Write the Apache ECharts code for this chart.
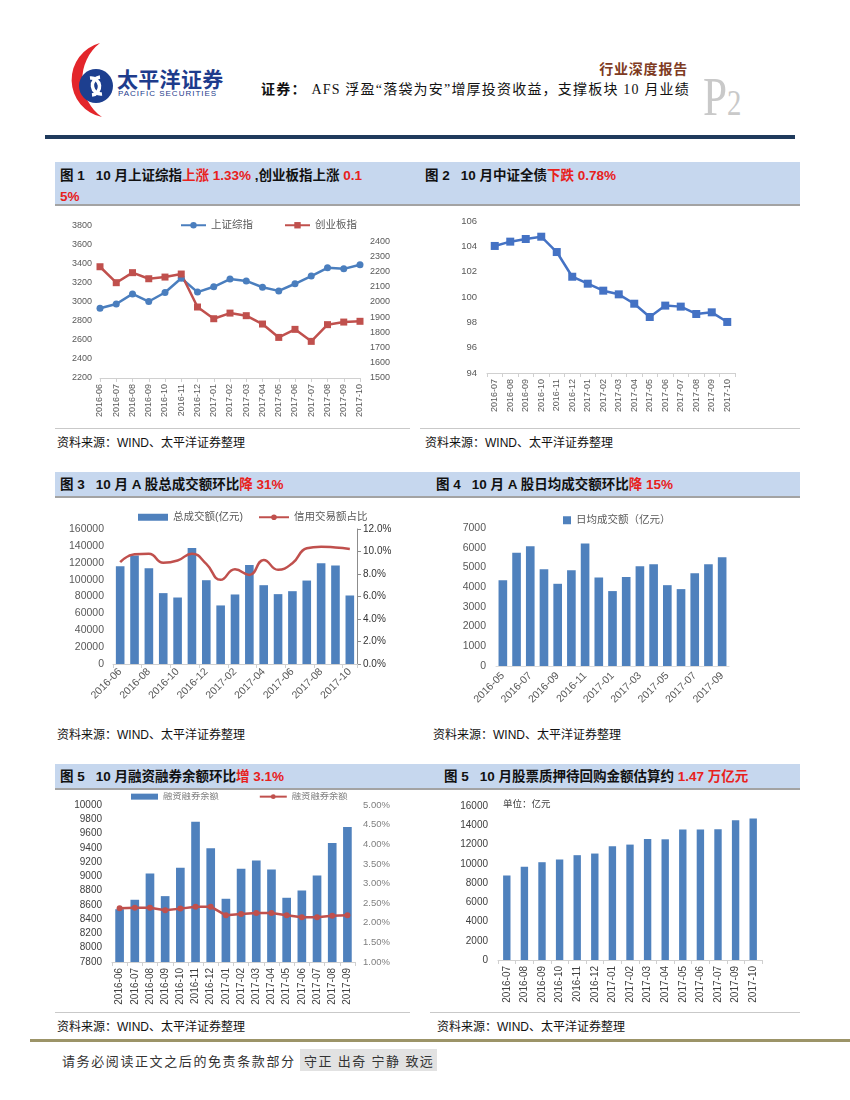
<!DOCTYPE html>
<html><head><meta charset="utf-8">
<script src="https://cdn.jsdelivr.net/npm/echarts@6/dist/echarts.min.js"></script>
<style>
body{margin:0;width:850px;height:1100px;background:#fff;position:relative;font-family:"Liberation Sans","Noto Sans CJK SC",sans-serif;overflow:hidden}
.band{position:absolute;left:55px;width:745px;background:#c6d7ee;border-bottom:2px solid #a3a3a3}
.t{position:absolute;font-weight:bold;font-size:13.5px;color:#111;white-space:nowrap;line-height:21px}
.r{color:#e8211c}
.g{margin-left:11px}
.src{position:absolute;font-size:12px;color:#111;white-space:nowrap}
.chart{position:absolute}
.hl{position:absolute;height:1px;background:#c9c9c9}
</style></head><body>

<svg style="position:absolute;left:0;top:0" width="240" height="130">
  <path d="M100,43 A38,38 0 0,0 102,117 A46,46 0 0,1 100,43 Z" fill="#e3262b"/>
  <circle cx="96" cy="86" r="17" fill="#1d3f8f"/>
  <path d="M90,78 A8,8 0 1,1 92,95" stroke="#fff" stroke-width="3.5" fill="none"/>
  <path d="M102,94 A8,8 0 1,1 100,77" stroke="#fff" stroke-width="3.5" fill="none"/>
</svg>
<div style="position:absolute;left:117px;top:63px;font-size:21px;font-weight:bold;color:#1e3c8c;letter-spacing:0.3px;font-family:'Noto Sans CJK SC'">太平洋证券</div>
<div style="position:absolute;left:118px;top:89px;font-size:8px;color:#1e3c8c;letter-spacing:1px">PACIFIC SECURITIES</div>
<div style="position:absolute;right:162px;top:58px;font-size:14px;font-weight:bold;color:#7e3a22;letter-spacing:0.8px;font-family:'Noto Sans CJK SC'">行业深度报告</div>
<div style="position:absolute;right:160px;top:78px;font-size:14px;color:#111;white-space:nowrap;letter-spacing:1.2px;font-family:'Liberation Serif','Noto Sans CJK SC'"><b>证券：</b> AFS 浮盈“落袋为安”增厚投资收益，支撑板块 10 月业绩</div>
<div style="position:absolute;left:703px;top:66px;color:#c9c9c9;font-family:'Liberation Serif';white-space:nowrap;transform:scaleX(0.8);transform-origin:left"><span style="font-size:54px">P</span><span style="font-size:36px">2</span></div>
<div style="position:absolute;left:45px;top:135px;width:750px;height:4px;background:#1f3a5c"></div>

<div class="band" style="top:162px;height:42px"></div>
<div class="t" style="left:60px;top:165px">图 1<span class="g">10 月上证综指</span><span class="r">上涨 1.33%</span> ,创业板指上涨 <span class="r">0.1</span><br><span class="r">5%</span></div>
<div class="t" style="left:425px;top:165px">图 2<span class="g">10 月中证全债</span><span class="r">下跌 0.78%</span></div>

<div class="band" style="top:472px;height:24px"></div>
<div class="t" style="left:60px;top:474px">图 3<span class="g">10 月 A 股总成交额环比</span><span class="r">降 31%</span></div>
<div class="t" style="left:436px;top:474px">图 4<span class="g">10 月 A 股日均成交额环比</span><span class="r">降 15%</span></div>

<div class="band" style="top:764px;height:24px"></div>
<div class="t" style="left:60px;top:766px">图 5<span class="g">10 月融资融券余额环比</span><span class="r">增 3.1%</span></div>
<div class="t" style="left:444px;top:766px">图 5<span class="g">10 月股票质押待回购金额估算约</span><span class="r"> 1.47 万亿元</span></div>

<div id="c1" class="chart" style="left:55px;top:207px;width:355px;height:220px"></div>
<div id="c2" class="chart" style="left:415px;top:207px;width:385px;height:220px"></div>
<div id="c3" class="chart" style="left:55px;top:505px;width:355px;height:210px"></div>
<div id="c4" class="chart" style="left:430px;top:505px;width:370px;height:210px"></div>
<div id="c5" class="chart" style="left:55px;top:792px;width:355px;height:220px"></div>
<div id="c6" class="chart" style="left:430px;top:792px;width:370px;height:220px"></div>

<div class="hl" style="left:55px;top:428px;width:355px"></div>
<div class="hl" style="left:420px;top:428px;width:380px"></div>
<div class="hl" style="left:55px;top:1012px;width:355px"></div>
<div class="hl" style="left:430px;top:1012px;width:370px"></div>

<div class="src" style="left:57px;top:433px">资料来源：WIND、太平洋证券整理</div>
<div class="src" style="left:425px;top:433px">资料来源：WIND、太平洋证券整理</div>
<div class="src" style="left:57px;top:725px">资料来源：WIND、太平洋证券整理</div>
<div class="src" style="left:433px;top:725px">资料来源：WIND、太平洋证券整理</div>
<div class="src" style="left:57px;top:1017px">资料来源：WIND、太平洋证券整理</div>
<div class="src" style="left:437px;top:1017px">资料来源：WIND、太平洋证券整理</div>

<div style="position:absolute;left:30px;top:1039px;width:820px;height:3px;background:#9c9468"></div>
<div style="position:absolute;left:62px;top:1051px;font-size:13px;color:#333;letter-spacing:1.6px;white-space:nowrap">请务必阅读正文之后的免责条款部分</div>
<div style="position:absolute;left:300px;top:1049px;width:137px;height:22px;background:#e2e2e2"></div>
<div style="position:absolute;left:304px;top:1051px;font-size:13px;color:#333;letter-spacing:1.4px;white-space:nowrap">守正 出奇 宁静 致远</div>

<script>
// ---- Chart 1 data ----
const c1Cats = ['2016-06','2016-07','2016-08','2016-09','2016-10','2016-11','2016-12','2017-01','2017-02','2017-03','2017-04','2017-05','2017-06','2017-07','2017-08','2017-09','2017-10'];
const shIndex = [2934,2979,3085,3005,3100,3250,3104,3160,3242,3222,3155,3117,3192,3273,3360,3349,3393];
const cybIndex = [2232,2127,2193,2153,2164,2184,1967,1890,1927,1910,1855,1767,1820,1741,1851,1868,1873];
// ---- Chart 2 data ----
const c2Cats = ['2016-07','2016-08','2016-09','2016-10','2016-11','2016-12','2017-01','2017-02','2017-03','2017-04','2017-05','2017-06','2017-07','2017-08','2017-09','2017-10'];
const bondIndex = [104.03,104.37,104.58,104.76,103.55,101.6,101.05,100.5,100.21,99.47,98.42,99.32,99.24,98.66,98.79,98.03];
// ---- Chart 3 data ----
const c3Cats = ['2016-06','2016-07','2016-08','2016-09','2016-10','2016-11','2016-12','2017-01','2017-02','2017-03','2017-04','2017-05','2017-06','2017-07','2017-08','2017-09','2017-10'];
const totalTurnover = [115800,128500,113500,84000,78800,137500,99300,69400,82400,117400,93400,82800,86300,98900,119400,116600,81200];
const creditRatio = [9.05,9.75,9.81,9.0,9.2,9.81,8.9,7.48,8.42,7.92,9.25,8.37,8.96,10.29,10.43,10.35,10.23];
// ---- Chart 4 data ----
const c4Cats = ['2016-05','2016-06','2016-07','2016-08','2016-09','2016-10','2016-11','2016-12','2017-01','2017-02','2017-03','2017-04','2017-05','2017-06','2017-07','2017-08','2017-09'];
const dailyTurnover = [4350,5750,6070,4910,4170,4860,6210,4490,3800,4520,5060,5160,4100,3900,4710,5160,5520];
// ---- Chart 5 data ----
const c5Cats = ['2016-06','2016-07','2016-08','2016-09','2016-10','2016-11','2016-12','2017-01','2017-02','2017-03','2017-04','2017-05','2017-06','2017-07','2017-08','2017-09'];
const marginBalance = [8540,8672,9040,8723,9119,9767,9394,8686,9105,9222,9096,8700,8802,9012,9469,9692];
const marginRatio = [2.37,2.38,2.38,2.32,2.36,2.41,2.41,2.19,2.22,2.25,2.25,2.19,2.14,2.14,2.18,2.19];
// ---- Chart 6 data ----
const c6Cats = ['2016-07','2016-08','2016-09','2016-10','2016-11','2016-12','2017-01','2017-02','2017-03','2017-04','2017-05','2017-06','2017-07','2017-09','2017-10'];
const pledgeAmount = [8780,9680,10160,10440,10890,11060,11820,11990,12580,12540,13550,13550,13580,14510,14700];

const FONT = "'Liberation Sans','Noto Sans CJK SC',sans-serif";
const LBL = '#595959';
const BLUE = '#4f81bd';
const RED = '#c0504d';
const plain = v => String(v);
function catAxis(cats, opt){
  return Object.assign({
    type:'category', data:cats,
    axisLine:{show:true, lineStyle:{color:'#d0d0d0'}},
    axisTick:{show:true, length:4, lineStyle:{color:'#d0d0d0'}},
    axisLabel:{color:LBL, fontSize:9, fontFamily:FONT, rotate:90, interval:0, margin:6}
  }, opt||{});
}
function valAxis(min,max,interval,opt){
  return Object.assign({
    type:'value', min:min, max:max, interval:interval,
    splitLine:{show:false}, axisLine:{show:false}, axisTick:{show:false},
    axisLabel:{color:LBL, fontSize:9, fontFamily:FONT, margin:8, formatter:plain}
  }, opt||{});
}

// Chart 1
echarts.init(document.getElementById('c1')).setOption({
  animation:false,
  legend:{left:125, top:13, padding:0, itemWidth:25, itemHeight:8, itemGap:31,
    textStyle:{color:LBL, fontSize:10.5, fontFamily:FONT}, data:['上证综指','创业板指']},
  grid:{left:45, top:19, width:260, height:152},
  xAxis:catAxis(c1Cats,{boundaryGap:false}),
  yAxis:[
    valAxis(2200,3800,200),
    valAxis(1500,2500,100,{position:'right', axisLabel:{color:LBL,fontSize:9,fontFamily:FONT,margin:10,
      formatter:v=> v===2500?'':String(v)}})
  ],
  series:[
    {name:'上证综指', type:'line', data:shIndex, symbol:'circle', symbolSize:7,
      lineStyle:{width:2.5,color:'#4a7ebe'}, itemStyle:{color:'#4a7ebe'}},
    {name:'创业板指', type:'line', yAxisIndex:1, data:cybIndex, symbol:'rect', symbolSize:7,
      lineStyle:{width:2.5,color:RED}, itemStyle:{color:RED}}
  ]
});

// Chart 2
echarts.init(document.getElementById('c2')).setOption({
  animation:false,
  grid:{left:72, top:14, width:248, height:152},
  xAxis:catAxis(c2Cats,{boundaryGap:true}),
  yAxis:valAxis(94,106,2,{axisLabel:{color:LBL,fontSize:9.5,fontFamily:FONT,margin:10,formatter:plain}}),
  series:[{type:'line', data:bondIndex, symbol:'rect', symbolSize:8,
    lineStyle:{width:2.5,color:'#4472c4'}, itemStyle:{color:'#4472c4'}}]
});

// Chart 3
echarts.init(document.getElementById('c3')).setOption({
  animation:false,
  legend:{left:83, top:7, padding:0, itemWidth:30, itemHeight:7, itemGap:15, width:300,
    textStyle:{color:LBL, fontSize:10.5, fontFamily:FONT},
    data:[{name:'总成交额(亿元)', icon:'rect'},{name:'信用交易额占比'}]},
  grid:{left:58, top:24, width:244, height:135},
  xAxis:catAxis(c3Cats,{boundaryGap:true, axisLabel:{color:LBL,fontSize:10.5,fontFamily:FONT,rotate:45,interval:1,margin:6}}),
  yAxis:[
    valAxis(0,160000,20000,{axisLabel:{color:LBL,fontSize:10.5,fontFamily:FONT,margin:9,formatter:plain}}),
    valAxis(0,12,2,{position:'right', axisLine:{show:true,lineStyle:{color:'#8c8c8c'}},
      axisTick:{show:true,length:4,lineStyle:{color:'#8c8c8c'}},
      axisLabel:{color:'#333',fontSize:10,fontFamily:FONT,margin:6,formatter:v=>v.toFixed(1)+'%'}})
  ],
  series:[
    {name:'总成交额(亿元)', type:'bar', data:totalTurnover, barWidth:'60%', itemStyle:{color:BLUE}},
    {name:'信用交易额占比', type:'line', yAxisIndex:1, data:creditRatio, smooth:0.5, symbol:'none',
      lineStyle:{width:2.5,color:RED}, itemStyle:{color:RED}}
  ]
});

// Chart 4
echarts.init(document.getElementById('c4')).setOption({
  animation:false,
  legend:{left:133, top:10, padding:0, itemWidth:8, itemHeight:8, itemGap:10,
    textStyle:{color:LBL, fontSize:10.5, fontFamily:FONT},
    data:[{name:'日均成交额（亿元）', icon:'rect'}]},
  grid:{left:66, top:23, width:233, height:138},
  xAxis:catAxis(c4Cats,{boundaryGap:true, axisTick:{show:false},
    axisLine:{show:true,lineStyle:{color:'#dcdcdc'}},
    axisLabel:{color:LBL,fontSize:10.5,fontFamily:FONT,rotate:45,interval:1,margin:8}}),
  yAxis:valAxis(0,7000,1000,{axisLabel:{color:LBL,fontSize:10.5,fontFamily:FONT,margin:10,formatter:plain}}),
  series:[{name:'日均成交额（亿元）', type:'bar', data:dailyTurnover, barWidth:'63%', itemStyle:{color:BLUE}}]
});

// Chart 5
echarts.init(document.getElementById('c5')).setOption({
  animation:false,
  legend:{left:76, top:0, padding:0, itemWidth:27, itemHeight:6, itemGap:40, width:300,
    textStyle:{color:'#7f7f7f', fontSize:9.3, fontFamily:FONT},
    data:[{name:'融资融券余额', icon:'rect'},{name:'融资融券余额 '}]},
  grid:{left:57, top:13, width:243, height:157},
  xAxis:catAxis(c5Cats,{boundaryGap:true, axisLabel:{color:'#404040',fontSize:10,fontFamily:FONT,rotate:90,interval:0,margin:6}}),
  yAxis:[
    valAxis(7800,10000,200,{axisLabel:{color:'#404040',fontSize:10,fontFamily:FONT,margin:10,formatter:plain}}),
    valAxis(1,5,0.5,{position:'right',axisLabel:{color:'#7f7f7f',fontSize:9.5,fontFamily:FONT,margin:8,formatter:v=>v.toFixed(2)+'%'}})
  ],
  series:[
    {name:'融资融券余额', type:'bar', data:marginBalance, barWidth:'57%', itemStyle:{color:BLUE}},
    {name:'融资融券余额 ', type:'line', yAxisIndex:1, data:marginRatio, symbol:'circle', symbolSize:6,
      lineStyle:{width:2.5,color:RED}, itemStyle:{color:RED}}
  ]
});

// Chart 6
echarts.init(document.getElementById('c6')).setOption({
  animation:false,
  title:{text:'单位：亿元', left:73, top:8, padding:0, textStyle:{fontSize:9.5, fontWeight:'normal', color:'#404040', fontFamily:FONT}},
  grid:{left:68, top:14, width:264, height:154},
  xAxis:catAxis(c6Cats,{boundaryGap:true, axisLabel:{color:'#404040',fontSize:10,fontFamily:FONT,rotate:90,interval:0,margin:6}}),
  yAxis:valAxis(0,16000,2000,{axisLabel:{color:'#404040',fontSize:10,fontFamily:FONT,margin:10,formatter:plain}}),
  series:[{type:'bar', data:pledgeAmount, barWidth:'42%', itemStyle:{color:BLUE}}]
});
</script>
</body></html>
